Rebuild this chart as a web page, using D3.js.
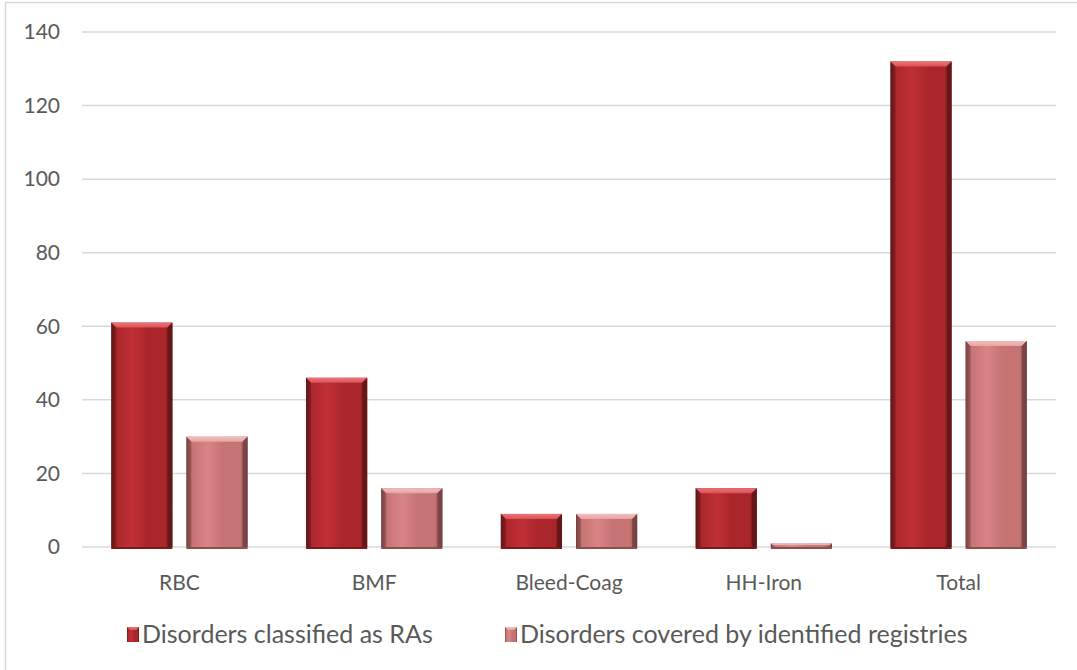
<!DOCTYPE html>
<html>
<head>
<meta charset="utf-8">
<script src="https://cdn.jsdelivr.net/npm/d3@7"></script>
<style>
  html, body { margin: 0; padding: 0; background: #fff; }
  svg { display: block; }
  text { font-family: Lato, "Open Sans", sans-serif; fill: #595959; }
</style>
</head>
<body>
<svg id="chart" width="1077" height="670"></svg>
<script>
// Disorder counts per category
const categories = ["RBC", "BMF", "Bleed-Coag", "HH-Iron", "Total"];
const seriesNames = ["Disorders classified as RAs", "Disorders covered by identified registries"];
const classifiedRA = [61, 46, 9, 16, 132];
const coveredByRegistries = [30, 16, 9, 1, 56];
const yTicks = [0, 20, 40, 60, 80, 100, 120, 140];

const W = 1077, H = 670;
const margin = { left: 82, right: 21, top: 32, bottom: 123 };
const svg = d3.select("#chart");

// chart frame
svg.append("rect").attr("x", 5.5).attr("y", 2.5).attr("width", W + 10).attr("height", H + 10)
  .attr("fill", "#fff").attr("stroke", "#d9d9d9").attr("stroke-width", 1.5);

const x0 = d3.scaleBand().domain(categories)
  .range([margin.left, W - margin.right]).paddingInner(0.3).paddingOuter(0.15);
const x1 = d3.scaleBand().domain([0, 1]).range([0, x0.bandwidth()]).paddingInner(0.186);
const y = d3.scaleLinear().domain([0, 140]).range([H - margin.bottom, margin.top]);

// gradients for bevelled bars
const defs = svg.append("defs");
const palettes = [
  { edge: "#621517", mid: "#aa262b", light: "#c03036", top: "#da5257", topEdge: "#ea757a" },
  { edge: "#764040", mid: "#c67373", light: "#d98585", top: "#e8a3a3", topEdge: "#f3bfbf" }
];
palettes.forEach((p, i) => {
  const g = defs.append("linearGradient").attr("id", "body" + i)
    .attr("x1", "0").attr("x2", "1").attr("y1", "0").attr("y2", "0");
  [[0, p.edge], [0.08, p.mid], [0.35, p.light], [0.6, p.mid], [0.88, p.mid], [1, p.edge]]
    .forEach(([o, c]) => g.append("stop").attr("offset", o).attr("stop-color", c));
  const t = defs.append("linearGradient").attr("id", "top" + i)
    .attr("x1", "0").attr("x2", "0").attr("y1", "0").attr("y2", "1");
  [[0, p.topEdge], [1, p.top]].forEach(([o, c]) => t.append("stop").attr("offset", o).attr("stop-color", c));
});

// gridlines
svg.append("g").selectAll("line").data(yTicks).join("line")
  .attr("x1", margin.left).attr("x2", W - margin.right)
  .attr("y1", d => y(d)).attr("y2", d => y(d))
  .attr("stroke", "#d9d9d9").attr("stroke-width", 1.5);

// y axis labels
const yAxis = d3.axisLeft(y).tickValues(yTicks).tickSize(0).tickPadding(22);
const yg = svg.append("g").attr("transform", `translate(${margin.left},0)`).call(yAxis);
yg.select(".domain").remove();
yg.selectAll("text").attr("font-size", 21).style("font-family", "Lato, sans-serif").attr("fill", "#595959");

// x axis labels
const xAxis = d3.axisBottom(x0).tickSize(0).tickPadding(28);
const xg = svg.append("g").attr("transform", `translate(0,${y(0)})`).call(xAxis);
xg.select(".domain").remove();
xg.selectAll("text").attr("font-size", 21).style("font-family", "Lato, sans-serif").attr("fill", "#595959");

// bars
const rows = categories.map((c, i) => ({ c, vals: [classifiedRA[i], coveredByRegistries[i]] }));
const bevel = 5;
const groups = svg.append("g").selectAll("g").data(rows).join("g")
  .attr("transform", d => `translate(${x0(d.c)},0)`);

groups.each(function (d) {
  const g = d3.select(this);
  d.vals.forEach((v, s) => {
    const bx = x1(s), bw = x1.bandwidth();
    const top = y(v), base = y(0);
    const h = base - top;
    const p = palettes[s];
    const b = Math.min(bevel, h / 2);
    // shadow line under bar
    g.append("rect").attr("x", bx).attr("y", base).attr("width", bw).attr("height", 2)
      .attr("fill", s === 0 ? "#7a1a1c" : "#8a5050");
    // body
    g.append("rect").attr("x", bx).attr("y", top).attr("width", bw).attr("height", h)
      .attr("fill", `url(#body${s})`);
    // top bevel
    g.append("path")
      .attr("d", `M${bx},${top}L${bx + bw},${top}L${bx + bw - b},${top + b}L${bx + b},${top + b}Z`)
      .attr("fill", `url(#top${s})`);
    // side bevels
    g.append("path")
      .attr("d", `M${bx},${top}L${bx + b},${top + b}L${bx + b},${base}L${bx},${base}Z`)
      .attr("fill", p.edge).attr("opacity", 0.5);
    g.append("path")
      .attr("d", `M${bx + bw},${top}L${bx + bw - b},${top + b}L${bx + bw - b},${base}L${bx + bw},${base}Z`)
      .attr("fill", p.edge).attr("opacity", 0.8);
  });
});

// legend
const legendItems = [
  { name: seriesNames[0], x: 127 },
  { name: seriesNames[1], x: 505 }
];
const lg = svg.append("g").selectAll("g").data(legendItems).join("g")
  .attr("transform", d => `translate(${d.x},627)`);
lg.append("rect").attr("width", 12).attr("height", 15).attr("fill", (d, i) => `url(#body${i})`);
lg.append("path").attr("d", "M0,0L12,0L9,3L3,3Z").attr("fill", (d, i) => `url(#top${i})`);
lg.append("text").attr("x", 15).attr("y", 16).attr("font-size", 25)
  .text(d => d.name);
</script>
</body>
</html>
